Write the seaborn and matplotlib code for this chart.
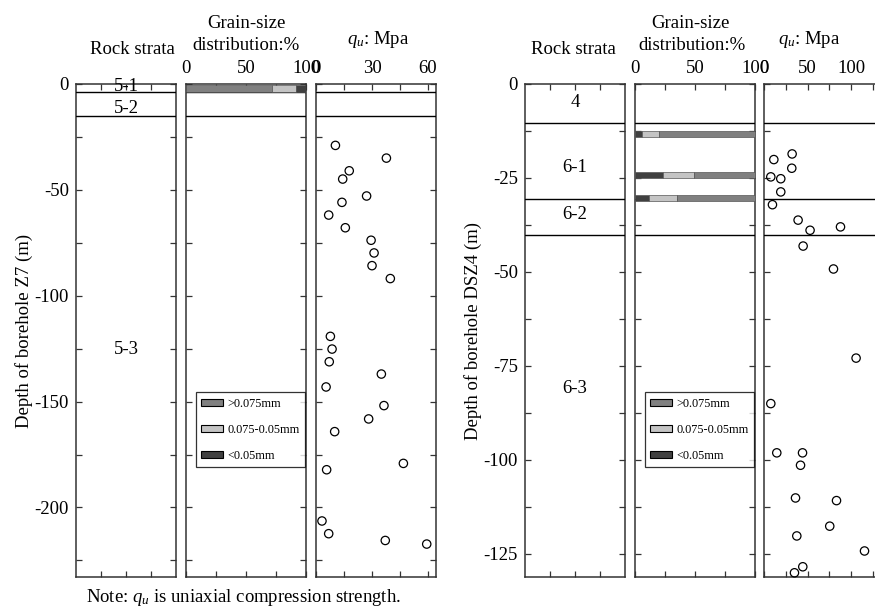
import matplotlib
matplotlib.use("Agg")
import matplotlib.pyplot as plt
from matplotlib.patches import Patch
from matplotlib.ticker import MultipleLocator
import seaborn as sns
import pandas as pd

# ---------------- data ----------------
# Borehole Z7
z7_strata = ["5-1", "5-2", "5-3"]
z7_strata_label_depth = [-1.4, -11.8, -125.2]
z7_boundaries = [-3.8, -15.2]
z7_grain_depth = [-2.2]
z7_coarse = [72]      # >0.075mm
z7_medium = [20]      # 0.075-0.05mm
z7_fine = [8]         # <0.05mm
z7_qu = [10.4, 37.7, 17.8, 14.3, 27.1, 13.9, 6.8, 15.7, 29.5, 31.1, 30.0, 39.8,
         7.7, 8.6, 7.1, 35.0, 5.4, 36.4, 28.2, 10.0, 46.8, 5.7, 3.2, 6.8, 37.1, 59.3]
z7_qu_depth = [-29.0, -35.0, -41.0, -44.9, -52.9, -55.9, -61.9, -67.9, -73.8, -79.8,
               -85.8, -91.9, -119.2, -125.2, -131.2, -137.0, -143.1, -151.9, -158.2,
               -164.2, -179.2, -182.2, -206.4, -212.4, -215.6, -217.3]

# Borehole DSZ4
dsz4_strata = ["4", "6-1", "6-2", "6-3"]
dsz4_strata_label_depth = [-4.8, -22.1, -34.8, -81.1]
dsz4_boundaries = [-10.4, -30.6, -40.2]
dsz4_grain_depth = [-13.3, -24.2, -30.3]
dsz4_fine = [6, 23, 12]
dsz4_medium = [14, 26, 23]
dsz4_coarse = [80, 51, 65]
dsz4_qu = [11.0, 32.1, 31.7, 7.5, 19.0, 19.0, 9.4, 39.0, 52.8, 87.9, 44.8, 79.8,
           105.9, 7.5, 14.4, 44.1, 41.8, 36.0, 83.3, 75.5, 37.5, 115.6, 44.4, 34.8]
dsz4_qu_depth = [-20.1, -18.6, -22.4, -24.7, -25.2, -28.7, -32.1, -36.2, -38.9, -38.0,
                 -43.1, -49.2, -72.9, -85.0, -98.1, -98.1, -101.4, -110.1, -110.8,
                 -117.6, -120.2, -124.2, -128.4, -130.0]

grain_labels = [">0.075mm", "0.075-0.05mm", "<0.05mm"]
c_coarse, c_medium, c_fine = "#808080", "#c4c4c4", "#404040"

# ---------------- style ----------------
sns.set_theme(style="ticks")
plt.rcParams["font.family"] = ["Liberation Serif", "DejaVu Serif"]
plt.rcParams["mathtext.fontset"] = "custom"
plt.rcParams["mathtext.rm"] = "Liberation Serif"
plt.rcParams["mathtext.it"] = "Liberation Serif:italic"
plt.rcParams["axes.unicode_minus"] = False
for k in ("text.color", "axes.labelcolor", "xtick.labelcolor", "ytick.labelcolor"):
    plt.rcParams[k] = "black"
FS = 13.5
spine_c = "#333333"

W, H = 875, 612
fig = plt.figure(figsize=(W / 100, H / 100), dpi=100)


def add_ax(x0, x1, y0=84, y1=577.3):
    return fig.add_axes([x0 / W, 1 - y1 / H, (x1 - x0) / W, (y1 - y0) / H])


def style(ax, ylim, ymaj, ymin, showy):
    ax.set_ylim(*ylim)
    for s in ax.spines.values():
        s.set_color(spine_c)
        s.set_linewidth(1.1)
        s.set_visible(True)
    ax.yaxis.set_major_locator(MultipleLocator(ymaj))
    ax.yaxis.set_minor_locator(MultipleLocator(ymin))
    ax.tick_params(axis="both", which="both", direction="in", length=4, width=0.9,
                   color=spine_c, labelcolor="black", top=True, bottom=True,
                   left=True, right=True, labeltop=True, labelbottom=False,
                   labelleft=showy, labelright=False, labelsize=FS, pad=5)
    ax.set_xlabel("")
    ax.set_ylabel("")
    ax.grid(False)


def draw(xs, ylim, ymaj, ymin, ylabel, strata, strata_y, bounds,
         gdepth, segs, bar_h, qu, qud, qu_xlim, qu_maj, qu_min, qu_ticklabels):
    a1 = add_ax(xs[0][0], xs[0][1])
    a2 = add_ax(xs[1][0], xs[1][1])
    a3 = add_ax(xs[2][0], xs[2][1])
    for a in (a1, a2, a3):
        for b in bounds:
            a.axhline(b, color="black", lw=1.0, zorder=3)
    # rock strata
    a1.set_xlim(0, 1)
    style(a1, ylim, ymaj, ymin, True)
    a1.set_xticks([0.25, 0.5, 0.75])
    a1.tick_params(labeltop=False)
    for name, yy in zip(strata, strata_y):
        a1.text(0.5, yy, name, ha="center", va="center", fontsize=FS)
    a1.set_ylabel(ylabel, fontsize=FS, labelpad=1)
    # grain size
    left = [0] * len(gdepth)
    for vals, col in segs:
        a2.barh(gdepth, vals, left=left, height=bar_h, color=col,
                edgecolor="#555555", linewidth=0.5, zorder=4)
        left = [l + v for l, v in zip(left, vals)]
    a2.set_xlim(0, 100)
    style(a2, ylim, ymaj, ymin, False)
    a2.xaxis.set_major_locator(MultipleLocator(50))
    a2.xaxis.set_minor_locator(MultipleLocator(25))
    handles = [Patch(facecolor=c, edgecolor="black", linewidth=0.8)
               for c in (c_coarse, c_medium, c_fine)]
    leg = a2.legend(handles, grain_labels, loc="upper left",
                    bbox_to_anchor=(0.083, 0.375), fontsize=8.8, frameon=True,
                    fancybox=False, edgecolor="black", handlelength=1.8,
                    handleheight=0.55, labelspacing=1.15, borderpad=0.45,
                    handletextpad=0.35, borderaxespad=0)
    leg.get_frame().set_linewidth(0.9)
    # qu scatter
    df = pd.DataFrame({"qu": qu, "depth": qud})
    sns.scatterplot(data=df, x="qu", y="depth", ax=a3, s=36, facecolor="none",
                    edgecolor="black", linewidth=0.9, zorder=5, clip_on=False)
    a3.set_xlim(*qu_xlim)
    style(a3, ylim, ymaj, ymin, False)
    a3.set_xticks(qu_maj)
    a3.set_xticklabels(qu_ticklabels)
    a3.xaxis.set_minor_locator(MultipleLocator(qu_min))
    return a1, a2, a3


draw([(76, 176), (186, 306), (316, 435.5)], (-233, 0), 50, 25,
     "Depth of borehole Z7 (m)", z7_strata, z7_strata_label_depth, z7_boundaries,
     z7_grain_depth,
     [(z7_coarse, c_coarse), (z7_medium, c_medium), (z7_fine, c_fine)], 3.4,
     z7_qu, z7_qu_depth, (0, 64), [0, 30, 60], 15, ["0", "30", "60"])

draw([(525, 625), (635, 755), (764.3, 886)], (-131.2, 0), 25, 12.5,
     "Depth of borehole DSZ4 (m)", dsz4_strata, dsz4_strata_label_depth,
     dsz4_boundaries, dsz4_grain_depth,
     [(dsz4_fine, c_fine), (dsz4_medium, c_medium), (dsz4_coarse, c_coarse)], 1.5,
     dsz4_qu, dsz4_qu_depth, (0, 140.4), [0, 50, 100], 25, ["0", "50", "100"])

# headers
def ftext(x, y, s, **kw):
    fig.text(x / W, 1 - y / H, s, ha="center", va="center", fontsize=FS, **kw)

ftext(132, 49, "Rock strata")
ftext(246, 23, "Grain-size")
ftext(246, 46, "distribution:%")
ftext(378, 40, r"$q_u$: Mpa")
ftext(573, 49, "Rock strata")
ftext(690, 23, "Grain-size")
ftext(692, 46, "distribution:%")
ftext(809, 40, r"$q_u$: Mpa")
ftext(244, 598, r"Note: $q_u$ is uniaxial compression strength.")

fig.savefig("out.png", dpi=100)
